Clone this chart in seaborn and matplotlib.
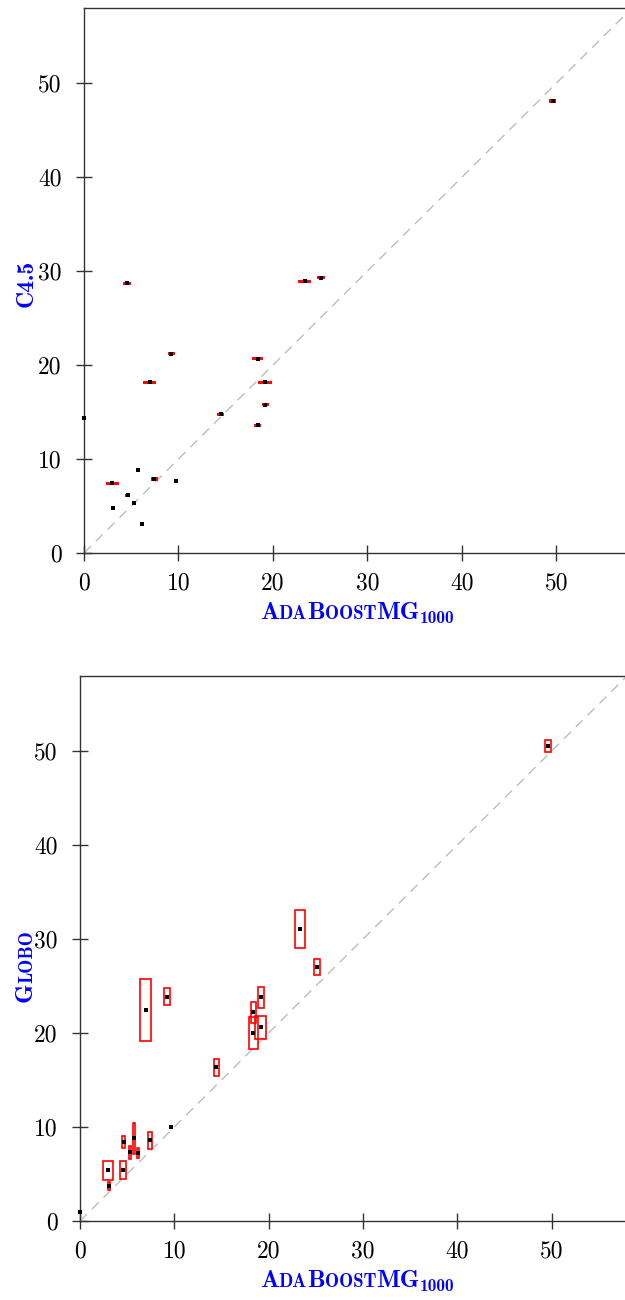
import numpy as np
import pandas as pd
import matplotlib
matplotlib.use("Agg")
import matplotlib.pyplot as plt
import seaborn as sns
from matplotlib.patches import Rectangle
from matplotlib.transforms import IdentityTransform

# ---- data (error rates, %) ----
adaboost_err = [0.0, 3.0, 3.1, 4.52, 4.62, 5.33, 5.75, 6.15, 6.95, 7.43,
                9.25, 9.7, 14.47, 18.38, 18.38, 19.15, 19.2, 23.35, 25.1, 49.6]
adaboost_half = [0.05, 0.55, 0.1, 0.33, 0.19, 0.12, 0.1, 0.14, 0.55, 0.25,
                 0.3, 0.1, 0.24, 0.47, 0.29, 0.62, 0.29, 0.55, 0.3, 0.3]
c45_err = [14.33, 7.41, 4.75, 28.7, 6.13, 5.28, 8.8, 3.12, 18.16, 7.87,
           21.2, 7.62, 14.75, 20.67, 13.58, 18.16, 15.8, 28.9, 29.3, 48.1]
c45_half = [0.07] * 20
globo_err = [1.0, 5.39, 3.69, 5.39, 8.4, 7.3, 8.8, 7.27, 22.5, 8.58,
             23.86, 9.97, 16.35, 19.96, 22.2, 20.6, 23.8, 31.06, 27.0, 50.6]
globo_half = [0.1, 1.0, 0.44, 0.96, 0.6, 0.69, 1.63, 0.53, 3.3, 0.87,
              0.89, 0.1, 0.89, 1.7, 1.15, 1.26, 1.15, 2.0, 0.85, 0.64]
tick_values = [0, 10, 20, 30, 40, 50]

sns.set_theme(style="white")
plt.rcParams["font.family"] = ["cmr10", "DejaVu Serif"]
plt.rcParams["axes.unicode_minus"] = False

W, H = 625, 1300
fig = plt.figure(figsize=(W / 100, H / 100), dpi=100)
ax1 = fig.add_axes([84 / W, (H - 553) / H, 548 / W, 545 / H])
ax2 = fig.add_axes([80 / W, (H - 1221) / H, 547 / W, 545 / H])

SPINE = "#333333"


def panel(ax, yvals, yhalf, box_lw):
    df = pd.DataFrame({"x": adaboost_err, "y": yvals,
                       "hx": adaboost_half, "hy": yhalf})
    ax.axline((0, 0), slope=1, color="#bdbdbd", lw=1.0, dashes=(7, 5), zorder=1)
    for _, r in df.iterrows():
        ax.add_patch(Rectangle((r.x - r.hx, r.y - r.hy), 2 * r.hx, 2 * r.hy,
                               fill=False, ec="red", lw=box_lw, zorder=2,
                               clip_on=False))
    sns.scatterplot(data=df, x="x", y="y", marker="s", s=6, color="black",
                    linewidth=0, ax=ax, zorder=3, legend=False, clip_on=False)
    ax.set_xlim(0, 58)
    ax.set_ylim(0, 58)
    ax.set_xticks(tick_values)
    ax.set_yticks(tick_values)
    ax.set_xlabel("")
    ax.set_ylabel("")
    for s in ["left", "bottom", "top", "right"]:
        ax.spines[s].set_color(SPINE)
        ax.spines[s].set_linewidth(1.0)
    ax.tick_params(direction="inout", length=12, width=1, color=SPINE,
                   labelsize=17, labelcolor="black", left=True, bottom=True)
    ax.tick_params(axis="y", pad=10)
    ax.tick_params(axis="x", pad=8)


panel(ax1, c45_err, c45_half, 1.4)
panel(ax2, globo_err, globo_half, 1.2)

fig.canvas.draw()
renderer = fig.canvas.get_renderer()


def composite(pieces, cx, cy, rotation):
    """pieces: (text, size, baseline shift px). cx,cy: display coords of
    centre along text, baseline position."""
    widths = []
    for s, size, dy in pieces:
        t = fig.text(0, 0, s, fontsize=size, family=["cmb10", "DejaVu Serif"],
                     transform=IdentityTransform())
        widths.append(t.get_window_extent(renderer).width)
        t.remove()
    total = sum(widths)
    pos = -total / 2
    for (s, size, dy), w in zip(pieces, widths):
        if rotation == 0:
            x, y = cx + pos, cy - dy
        else:
            x, y = cx + dy, cy + pos
        fig.text(x, y, s, fontsize=size, family=["cmb10", "DejaVu Serif"],
                 color="blue", rotation=rotation, rotation_mode="anchor",
                 ha="left", va="baseline", transform=IdentityTransform())
        pos += w


xlab = [("A", 18, 0), ("DA", 13.5, 0), ("B", 18, 0), ("OOST", 13.5, 0),
        ("MG", 18, 0), ("1000", 12.5, 4)]
composite(xlab, 357, H - 619, 0)
composite(xlab, 357, H - 1287, 0)
composite([("C4.5", 17, 0)], 33, H - 283, 90)
composite([("G", 18, 0), ("LOBO", 13.5, 0)], 32, H - 966, 90)

fig.savefig("out.png", dpi=100)
